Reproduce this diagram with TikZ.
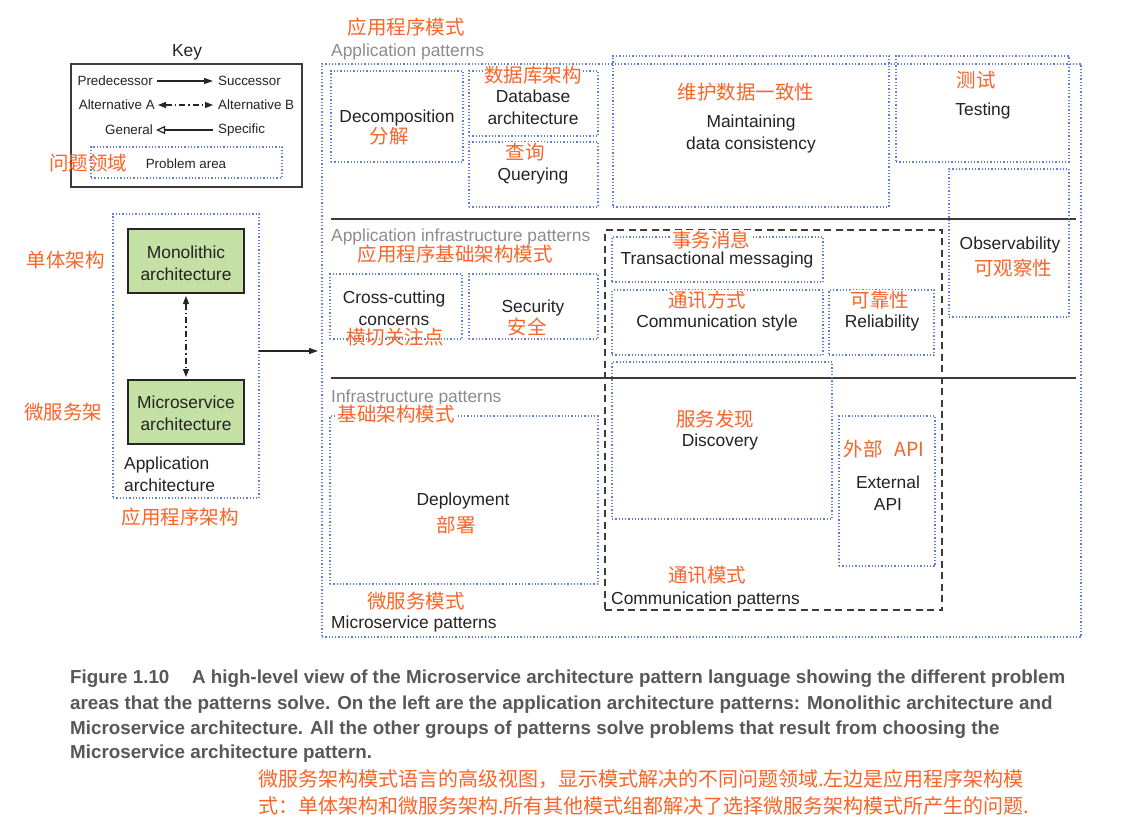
\documentclass[tikz,border=0pt]{standalone}
\usepackage{fontspec}
\setmainfont{Liberation Sans}
\newfontfamily\cjk{Noto Sans CJK SC}
\newfontfamily\capfont{Liberation Sans}
\usetikzlibrary{arrows.meta}
\definecolor{dotblue}{RGB}{95,128,210}
\definecolor{zhorange}{RGB}{250,100,40}
\definecolor{txtdark}{RGB}{35,35,35}
\definecolor{hdgray}{RGB}{140,140,140}
\definecolor{mgreen}{RGB}{197,224,165}
\definecolor{capgray}{RGB}{88,88,88}
\definecolor{linegray}{RGB}{60,60,60}
\newcommand\pbx[6][]{\node[pbox,anchor=north west,minimum width=#5pt-#3pt,minimum height=#6pt-#4pt,#1] (#2) at (#3,#4) {};}
\begin{document}
\begin{tikzpicture}[x=1pt,y=-1pt,
  pbox/.style={draw=dotblue,line width=1.25pt,dash pattern=on 1.25pt off 2.0pt,inner sep=0,outer sep=0},
  solidbox/.style={draw=linegray,line width=1.2pt,dash pattern=},
  greenbox/.style={fill=mgreen,draw=black!85,line width=1.2pt,dash pattern=},
  dashbox/.style={draw=linegray,line width=1.2pt,dash pattern=on 7pt off 4.5pt},
  lbl/.style={font=\fontsize{17.4}{22}\selectfont,text=txtdark,align=center,inner sep=0,yshift=-2pt},
  keylbl/.style={font=\fontsize{13.4}{16}\selectfont,text=txtdark,inner sep=0,yshift=-1pt},
  hd/.style={font=\fontsize{17.4}{22}\selectfont,text=hdgray,anchor=west,inner sep=0,yshift=-2pt},
  zh/.style={font=\cjk\fontsize{19.5}{22}\selectfont,text=zhorange,inner sep=0},
  captxt/.style={font=\capfont\bfseries\fontsize{18.8}{25}\selectfont,text=capgray,anchor=west,inner sep=0,yshift=-2pt},
  zhcap/.style={font=\cjk\fontsize{20}{27}\selectfont,text=zhorange,anchor=west,inner sep=0},
  arr/.style={draw=black!85,line width=1.2pt,-{Triangle[length=9pt,width=6pt]}},
  altarr/.style={draw=black!85,line width=1.2pt,dash pattern=on 6pt off 3pt on 1.5pt off 3pt,{Triangle[length=8pt,width=6pt]}-{Triangle[length=8pt,width=6pt]}},
  genarr/.style={draw=black!85,line width=1.2pt,{Triangle[open,length=9pt,width=8pt]}-},
  hline/.style={draw=linegray,line width=1.3pt}
]
\useasboundingbox[fill=white] (0,0) rectangle (1122,829);

% ---------- Key ----------
\node[lbl] (keytitle) at (187,50) {Key};
\pbx[solidbox]{keybox}{71}{64}{302}{187}
\node[keylbl,anchor=east] (pred) at (153,80) {Predecessor};
\node[keylbl,anchor=west] (succ) at (218,80) {Successor};
\node[keylbl,anchor=east] (alta) at (155,104) {Alternative A};
\node[keylbl,anchor=west] (altb) at (218,104) {Alternative B};
\node[keylbl,anchor=east] (gen) at (153,129) {General};
\node[keylbl,anchor=west] (spec) at (218,129) {Specific};
\draw[arr,shorten <=4pt,shorten >=5pt] (pred.east) -- (succ.west);
\draw[altarr,shorten <=3pt,shorten >=5pt] (alta.east) -- (altb.west);
\draw[genarr,shorten <=3pt,shorten >=5pt] (gen.east) -- (spec.west);
\pbx{probarea}{91}{147}{282}{178}
\node[keylbl] (probtxt) at (186,163) {Problem area};
\node[zh] (probzh) at (88,163) {问题领域};

% ---------- Application architecture ----------
\pbx{apparch}{113}{214}{259}{498}
\pbx[greenbox]{mono}{128}{229}{244}{293}
\pbx[greenbox]{micro}{128}{380}{244}{444}
\node[lbl] (monotxt) at (186,261) {Monolithic\\architecture};
\node[lbl] (microtxt) at (186,411) {Microservice\\architecture};
\node[lbl,align=left,anchor=west] (apparchtxt) at (124,472) {Application\\architecture};
\node[zh] (apparchzh) at (180,517) {应用程序架构};
\node[zh] (monozh) at (66,260) {单体架构};
\node[zh] (microzh) at (63,412) {微服务架};
\draw[altarr,shorten <=3pt,shorten >=3pt] (mono.south) -- (micro.north);

% ---------- Microservice patterns ----------
\pbx{outer}{322}{64}{1081}{637}
\draw[arr] (apparch.east |- 0,351) -- ([xshift=-4pt]outer.west |- 0,351);
\node[zh] (apppatzh) at (406,27) {应用程序模式};
\node[hd] (apppat) at (331,50) {Application patterns};

\coordinate (l1a) at (331,219); \coordinate (l1b) at (1076,219);
\coordinate (l2a) at (331,378); \coordinate (l2b) at (1076,378);
\draw[hline] (l1a) -- (l1b);
\draw[hline] (l2a) -- (l2b);

% Application patterns
\pbx{decomp}{331}{71}{463}{162}
\node[lbl] (decomptxt) at (397,116) {Decomposition};
\node[zh] (decompzh) at (389,136) {分解};
\pbx{dbarch}{469}{71}{598}{136}
\node[lbl] (dbtxt) at (533,105) {Database\\architecture};
\node[zh,fill=white,inner sep=1pt] (dbzh) at (533,75) {数据库架构};
\pbx{query}{469}{142}{598}{207}
\node[zh,fill=white,inner sep=1pt] (queryzh) at (525,152) {查询};
\node[lbl] (querytxt) at (533,174) {Querying};
\pbx{maint}{613}{56}{889}{207}
\node[zh] (maintzh) at (746,92) {维护数据一致性};
\node[lbl] (mainttxt) at (751,132) {Maintaining\\data consistency};
\pbx{testing}{896}{56}{1069}{162}
\node[zh] (testzh) at (976,80) {测试};
\node[lbl] (testtxt) at (983,109) {Testing};
\pbx{observ}{949}{169}{1069}{317}
\node[lbl] (obstxt) at (1010,243) {Observability};
\node[zh] (obszh) at (1013,268) {可观察性};

% Application infrastructure patterns
\node[hd] (appinfra) at (331,235) {Application infrastructure patterns};
\node[zh] (appinfrazh) at (455,254) {应用程序基础架构模式};
\pbx{cross}{330}{274}{462}{339}
\node[lbl] (crosstxt) at (394,306) {Cross-cutting\\concerns};
\node[zh] (crosszh) at (395,337) {横切关注点};
\pbx{secur}{469}{274}{598}{339}
\node[lbl] (sectxt) at (533,306) {Security};
\node[zh] (seczh) at (527,327) {安全};

% Communication patterns
\pbx[dashbox]{comm}{605}{230}{942}{610}
\pbx{trans}{612}{237}{823}{282}
\node[zh,fill=white,inner sep=1pt] (transzh) at (711,240) {事务消息};
\node[lbl] (transtxt) at (717,258) {Transactional messaging};
\pbx{cstyle}{612}{290}{823}{355}
\node[zh,fill=white,inner sep=1pt] (cstylezh) at (707,300) {通讯方式};
\node[lbl] (cstyletxt) at (717,321) {Communication style};
\pbx{reliab}{829}{290}{934}{355}
\node[zh,fill=white,inner sep=1pt] (reliabzh) at (880,300) {可靠性};
\node[lbl] (reliabtxt) at (882,321) {Reliability};
\pbx{discov}{612}{362}{832}{519}
\node[zh] (discovzh) at (715,419) {服务发现};
\node[lbl] (discovtxt) at (720,440) {Discovery};
\pbx{extapi}{839}{416}{935}{566}
\node[zh] (extzh) at (884,449) {外部\hspace{0.6em}API};
\node[lbl] (exttxt) at (888,491) {External\\API};
\node[zh] (commzh) at (707,575) {通讯模式};
\node[lbl,anchor=west] (commtxt) at (611,598) {Communication patterns};

% Infrastructure patterns
\node[hd] (infra) at (331,396) {Infrastructure patterns};
\pbx{deploy}{330}{416}{598}{584}
\node[zh,fill=white,inner sep=1pt] (infrazh) at (396,414) {基础架构模式};
\node[lbl] (deploytxt) at (463,499) {Deployment};
\node[zh] (deployzh) at (456,525) {部署};
\node[zh] (mspzh) at (416,601) {微服务模式};
\node[lbl,anchor=west] (msptxt) at (331,622) {Microservice patterns};

% ---------- Caption ----------
\node[captxt] (cap1) at (70,677) {Figure 1.10\hspace{1.2em}A high-level view of the Microservice architecture pattern language showing the different problem};
\node[captxt] (cap2) at (70,703) {areas that the patterns solve. On the left are the application architecture patterns: Monolithic architecture and};
\node[captxt] (cap3) at (70,728) {Microservice architecture. All the other groups of patterns solve problems that result from choosing the};
\node[captxt] (cap4) at (70,752) {Microservice architecture pattern.};
\node[zhcap] (zhcap1) at (258,779) {微服务架构模式语言的高级视图，显示模式解决的不同问题领域.左边是应用程序架构模};
\node[zhcap] (zhcap2) at (258,806) {式：单体架构和微服务架构.所有其他模式组都解决了选择微服务架构模式所产生的问题.};
\end{tikzpicture}
\end{document}
